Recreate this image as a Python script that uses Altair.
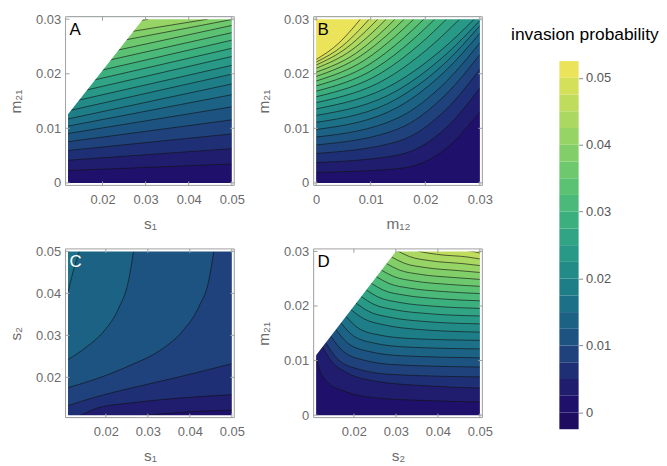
import altair as alt
import pandas as pd

# ---------------- colour bands (22 bands of 0.0025, from -0.0025 to 0.0525) -------------
COLORS = ["#1d0c5f", "#1f116b", "#201d6f", "#1f2f75", "#1f427c", "#1d5381", "#1c6285",
          "#1c7087", "#1e7e88", "#228b88", "#289887", "#30a484", "#3caf7f", "#4bb979",
          "#5cc273", "#6ec96e", "#82cf69", "#96d465", "#aad861", "#bfdc5d", "#d4df5a",
          "#ebe35a"]
STEP = 0.0025
LEG_LO = [-0.0025 + i * STEP for i in range(22)]
LEG_TICKS = [0, 0.01, 0.02, 0.03, 0.04, 0.05]

# ---------------- panel A : s1 (x) vs m21 (y) ----------------
A_LEVELS = [0.0025, 0.005, 0.0075, 0.01, 0.0125, 0.015, 0.0175, 0.02, 0.0225, 0.025,
            0.0275, 0.03, 0.0325, 0.035, 0.0375, 0.04, 0.0425]
A_X = [[0.012, 0.05]] * 15 + [[0.012, 0.0444], [0.012, 0.0306]]
A_Y = [[0.00226, 0.00347], [0.00416, 0.00628], [0.00594, 0.00898], [0.00755, 0.01155],
       [0.00905, 0.01394], [0.0104, 0.01616], [0.01172, 0.01813], [0.0132, 0.01993],
       [0.01472, 0.02154], [0.01624, 0.02316], [0.01776, 0.02466], [0.01924, 0.02615],
       [0.02081, 0.02753], [0.02237, 0.02885], [0.0242, 0.02993], [0.02586, 0.03],
       [0.02747, 0.03]]
A_MASK_X = [0.0105, 0.0310]
A_MASK_Y = [0.0111, 0.0316]

# ---------------- panel B : m12 (x) vs m21 (y) ----------------
B_LEVELS = [0.0025 * k for k in range(1, 21)]
B_X = [[0, 0.015, 0.024, 0.03]] * 8 + [
    [0, 0.01449, 0.023184, 0.02898], [0, 0.01314, 0.021024, 0.02628],
    [0, 0.01194, 0.019104, 0.02388], [0, 0.01086, 0.017376, 0.02172],
    [0, 0.00987, 0.015792, 0.01974], [0, 0.00894, 0.014304, 0.01788],
    [0, 0.00807, 0.012912, 0.01614], [0, 0.00723, 0.011568, 0.01446],
    [0, 0.00642, 0.010272, 0.01284], [0, 0.00564, 0.009024, 0.01128],
    [0, 0.00486, 0.007776, 0.00972], [0, 0.00405, 0.00648, 0.0081]]
B_Y = [[0.00192, 0.00261, 0.00647, 0.01302], [0.00372, 0.00511, 0.01027, 0.0174],
       [0.0054, 0.00761, 0.01365, 0.02082], [0.00696, 0.00989, 0.01644, 0.02352],
       [0.0084, 0.01191, 0.01874, 0.02568], [0.00978, 0.0139, 0.02083, 0.02742],
       [0.0111, 0.01553, 0.02233, 0.0288], [0.01236, 0.01702, 0.02375, 0.02976],
       [0.01356, 0.01828, 0.02456, 0.03], [0.0147, 0.01925, 0.02506, 0.03],
       [0.01578, 0.02016, 0.02551, 0.03], [0.0168, 0.02101, 0.02594, 0.03],
       [0.01776, 0.0218, 0.02633, 0.03], [0.01866, 0.02253, 0.02669, 0.03],
       [0.0195, 0.02321, 0.02701, 0.03], [0.02028, 0.02372, 0.02724, 0.03],
       [0.021, 0.02429, 0.02751, 0.03], [0.0216, 0.02478, 0.02775, 0.03],
       [0.02214, 0.02512, 0.02789, 0.03], [0.02262, 0.02552, 0.02808, 0.03]]

# ---------------- panel C : s1 (x) vs s2 (y) ----------------
C_LEVELS = [0.0025, 0.005, 0.0075, 0.01, 0.0125, 0.015]
C_X = [[0.0104, 0.025, 0.0305, 0.0383, 0.0506],
       [0.0104, 0.01412, 0.01802, 0.02582, 0.03752, 0.0506],
       [0.011, 0.01802, 0.02582, 0.03752, 0.05],
       [0.011, 0.01802, 0.02582, 0.03284, 0.0383, 0.0422, 0.04454, 0.04571],
       [0.011, 0.01529, 0.01958, 0.02309, 0.02543, 0.0266],
       [0.011, 0.0114, 0.0124, 0.0137]]
C_Y = [[0.0085, 0.0103, 0.011, 0.0117, 0.0122],
       [0.0094, 0.011, 0.01272, 0.01389, 0.01506, 0.0159],
       [0.01326, 0.01545, 0.0174, 0.02013, 0.02325],
       [0.01755, 0.01974, 0.02286, 0.02637, 0.03105, 0.0369, 0.04314, 0.05],
       [0.02426, 0.02715, 0.03105, 0.03651, 0.04314, 0.05],
       [0.0404, 0.042, 0.0459, 0.05]]

# ---------------- panel D : s2 (x) vs m21 (y) ----------------
D_LEVELS = [0.0025 * k for k in range(1, 20)]
D_X = [[0.011, 0.01201, 0.01396, 0.01786, 0.02566, 0.03736, 0.05],
       [0.01249, 0.01474, 0.01786, 0.02566, 0.03736, 0.05],
       [0.013279, 0.016279, 0.021279, 0.029279, 0.05],
       [0.014486, 0.017486, 0.022486, 0.030486, 0.05],
       [0.015694, 0.018694, 0.023694, 0.031694, 0.05],
       [0.016901, 0.019901, 0.024901, 0.032901, 0.05],
       [0.018108, 0.021108, 0.026108, 0.034108, 0.05],
       [0.019315, 0.022315, 0.027315, 0.035315, 0.05],
       [0.020522, 0.023522, 0.028522, 0.036522, 0.05],
       [0.02173, 0.02473, 0.02973, 0.03773, 0.05],
       [0.022937, 0.025937, 0.030937, 0.038937, 0.05],
       [0.024144, 0.027144, 0.032144, 0.040144, 0.05],
       [0.025351, 0.028351, 0.033351, 0.041351, 0.05],
       [0.026558, 0.029558, 0.034558, 0.042558, 0.05],
       [0.027766, 0.030766, 0.035766, 0.043766, 0.05],
       [0.028973, 0.031973, 0.036973, 0.044973, 0.05],
       [0.03018, 0.03318, 0.03818, 0.04618, 0.05],
       [0.03139, 0.03439, 0.03939, 0.04739, 0.05],
       [0.0326, 0.0356, 0.0406, 0.0486, 0.05]]
D_Y = [[0.01038, 0.00797, 0.00585, 0.00435, 0.00314, 0.00266, 0.00241],
       [0.01249, 0.00978, 0.00797, 0.00616, 0.00537, 0.00495],
       [0.013279, 0.010141, 0.008383, 0.007441, 0.007002],
       [0.014486, 0.011649, 0.010061, 0.00921, 0.008813],
       [0.015694, 0.013098, 0.011645, 0.010866, 0.010503],
       [0.016901, 0.014516, 0.013181, 0.012466, 0.012132],
       [0.018108, 0.015905, 0.014671, 0.01401, 0.013702],
       [0.019315, 0.017673, 0.016524, 0.015703, 0.015211],
       [0.020522, 0.019001, 0.017937, 0.017176, 0.01672],
       [0.02173, 0.020305, 0.019308, 0.018595, 0.018168],
       [0.022937, 0.021585, 0.020639, 0.019963, 0.019557],
       [0.024144, 0.022864, 0.021969, 0.021329, 0.020945],
       [0.025351, 0.02412, 0.023258, 0.022642, 0.022273],
       [0.026558, 0.025375, 0.024547, 0.023956, 0.023601],
       [0.027766, 0.026607, 0.025795, 0.025216, 0.024868],
       [0.028973, 0.027838, 0.027044, 0.026476, 0.026136],
       [0.03018, 0.02907, 0.02829, 0.02774, 0.027403],
       [0.03139, 0.03028, 0.0295, 0.02894, 0.028611],
       [0.0326, 0.03144, 0.03063, 0.02995, 0.029697]]
D_MASK_X = [0.0100, 0.0315]
D_MASK_Y = [0.0100, 0.0315]

FONT = "Liberation Sans"
GRAY = "#6b6b6b"
W = 170
H = 170
FMT = "datum.value == 0 ? '0' : format(datum.value, '.2f')"

COLOR_SCALE = alt.Scale(domain=list(range(22)), range=COLORS)


def band_of(level):
    return int(round(level / STEP)) + 1


def panel(levels, xs_list, ys_list, xdom, ydom, base, mask, letter, letter_color,
          xtitle, ytitle, xticks, yticks):
    xs = alt.Scale(domain=xdom, nice=False, zero=False)
    ys = alt.Scale(domain=ydom, nice=False, zero=False)
    xaxis = alt.Axis(values=xticks, labelExpr=FMT, title=xtitle)
    yaxis = alt.Axis(values=yticks, labelExpr=FMT, title=ytitle)

    def X(f="x"):
        return alt.X(f + ":Q", scale=xs, axis=xaxis)

    def Y(f="y"):
        return alt.Y(f + ":Q", scale=ys, axis=yaxis)

    col = alt.Color("band:O", scale=COLOR_SCALE, legend=None)
    layers = []
    bg = pd.DataFrame({"x": list(xdom), "y": [ydom[0]] * 2, "y2": [ydom[1]] * 2,
                       "band": [base] * 2})
    layers.append(alt.Chart(bg).mark_area(orient="vertical", clip=True)
                  .encode(x=X(), y=Y(), y2="y2:Q", color=col))
    line_rows = []
    for lvl, xv, yv in zip(levels, xs_list, ys_list):
        df = pd.DataFrame({"x": xv, "y": yv, "y2": ydom[1], "band": band_of(lvl)})
        layers.append(alt.Chart(df).mark_area(orient="vertical", interpolate="monotone",
                                              clip=True)
                      .encode(x=X(), y=Y(), y2="y2:Q", color=col))
        for a, b in zip(xv, yv):
            line_rows.append({"x": a, "y": b, "lvl": lvl})
    lines = pd.DataFrame(line_rows)
    layers.append(alt.Chart(lines).mark_line(color="#111111", strokeWidth=0.9, opacity=0.7,
                                             interpolate="monotone", clip=True)
                  .encode(x=X(), y=Y(), detail="lvl:N"))
    if mask is not None:
        mdf = pd.DataFrame({"x": mask[0], "y": mask[1], "y2": ydom[1]})
        layers.append(alt.Chart(mdf).mark_area(orient="vertical", color="white", clip=True)
                      .encode(x=X(), y=Y(), y2="y2:Q"))
    box = pd.DataFrame({"x": [xdom[0]], "x2": [xdom[1]], "y": [ydom[0]], "y2": [ydom[1]]})
    layers.append(alt.Chart(box).mark_rect(filled=False, stroke="white", strokeWidth=5,
                                           clip=True)
                  .encode(x=X(), x2="x2:Q", y=Y(), y2="y2:Q"))
    layers.append(alt.Chart(box).mark_rect(filled=False, stroke="#a0a0a0", strokeWidth=1)
                  .encode(x=X(), x2="x2:Q", y=Y(), y2="y2:Q"))
    xt = pd.DataFrame({"x": xticks})
    yt = pd.DataFrame({"y": yticks})
    layers.append(alt.Chart(xt).mark_rule(color="#a0a0a0")
                  .encode(x=X(), y=alt.value(H), y2=alt.value(H - 4)))
    layers.append(alt.Chart(xt).mark_rule(color="#a0a0a0")
                  .encode(x=X(), y=alt.value(0), y2=alt.value(4)))
    layers.append(alt.Chart(yt).mark_rule(color="#a0a0a0")
                  .encode(y=Y(), x=alt.value(0), x2=alt.value(4)))
    layers.append(alt.Chart(yt).mark_rule(color="#a0a0a0")
                  .encode(y=Y(), x=alt.value(W), x2=alt.value(W - 4)))
    lt = pd.DataFrame({"t": [letter]})
    layers.append(alt.Chart(lt).mark_text(align="left", baseline="middle", fontSize=17,
                                          font=FONT, color=letter_color)
                  .encode(text="t:N", x=alt.value(4), y=alt.value(13)))
    return alt.layer(*layers).properties(width=W, height=H)


A = panel(A_LEVELS, A_X, A_Y, [0.011424, 0.050576], [-0.000455, 0.030455], 1,
          (A_MASK_X, A_MASK_Y), "A", "black", "s₁", "m₂₁",
          [0.02, 0.03, 0.04, 0.05], [0, 0.01, 0.02, 0.03])
B = panel(B_LEVELS, B_X, B_Y, [-0.000455, 0.030455], [-0.000455, 0.030455], 1,
          None, "B", "black", "m₁₂", "m₂₁",
          [0, 0.01, 0.02, 0.03], [0, 0.01, 0.02, 0.03])
C = panel(C_LEVELS, C_X, C_Y, [0.010409, 0.050591], [0.010409, 0.050591], 1,
          None, "C", "white", "s₁", "s₂",
          [0.02, 0.03, 0.04, 0.05], [0.02, 0.03, 0.04, 0.05])
D = panel(D_LEVELS, D_X, D_Y, [0.010409, 0.050591], [-0.000455, 0.030455], 1,
          (D_MASK_X, D_MASK_Y), "D", "black", "s₂", "m₂₁",
          [0.02, 0.03, 0.04, 0.05], [0, 0.01, 0.02, 0.03])

# ---------------- colour bar legend ----------------
leg = pd.DataFrame({"lo": LEG_LO, "hi": [v + STEP for v in LEG_LO],
                    "band": list(range(22))})
leg_scale = alt.Scale(domain=[-0.0025, 0.05913], range=[415.7, 0], nice=False, zero=False)
bar = alt.Chart(leg).mark_rect().encode(
    y=alt.Y("lo:Q", scale=leg_scale,
            axis=alt.Axis(orient="right", values=LEG_TICKS, labelExpr=FMT, title=None,
                          ticks=True, tickSize=4, tickColor="#888888", labelPadding=3,
                          domain=False, labelColor="#555555")),
    y2="hi:Q",
    x=alt.value(-2.4), x2=alt.value(17),
    color=alt.Color("band:O", scale=COLOR_SCALE, legend=None))
ttl = alt.Chart(pd.DataFrame({"t": ["invasion probability"]})).mark_text(
    align="center", baseline="middle", fontSize=17.5, font=FONT, color="black"
).encode(text="t:N", x=alt.value(23.3), y=alt.value(18.3))
legend = alt.layer(bar, ttl).properties(width=17, height=H)

chart = alt.concat(A, B, legend, C, D, columns=3,
                   spacing={"row": 64, "column": 80}, bounds="flush").properties(
    padding={"left": 0, "top": 3, "right": 0, "bottom": 0}
).configure_view(stroke=None).configure_axis(
    labelFont=FONT, titleFont=FONT, labelFontSize=13, titleFontSize=15.5,
    labelColor=GRAY, titleColor=GRAY, ticks=False, domain=False, grid=False,
    titleFontWeight="normal"
).configure_axisX(labelPadding=8, titlePadding=10).configure_axisY(
    labelPadding=5, titlePadding=12)

chart.save("out.html", embed_options={"renderer": "svg", "actions": False})
